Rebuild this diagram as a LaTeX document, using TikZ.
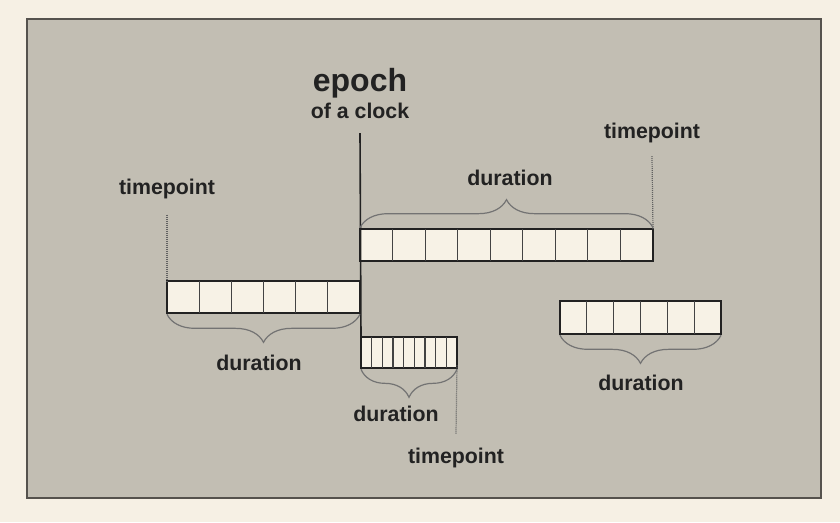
\documentclass[tikz,border=0pt]{standalone}
\usepackage{fontspec}
\setmainfont{Liberation Sans}
\usetikzlibrary{decorations.pathreplacing}
\definecolor{paper}{HTML}{F6F0E4}
\definecolor{panel}{HTML}{C2BEB3}
\definecolor{frame}{HTML}{55524D}
\definecolor{ink}{HTML}{222222}
\definecolor{cellfill}{HTML}{F7F2E6}
\begin{document}
\begin{tikzpicture}[x=0.75pt, y=-0.75pt,
          font=\bfseries\fontsize{16}{19}\selectfont, text=ink,
          lbl/.style={inner sep=0pt, anchor=base},
          barbox/.style={draw=ink, line width=1.2pt, fill=cellfill},
          divider/.style={draw=ink!85, line width=0.9pt},
          brc/.style={draw=black!55, line width=0.9pt, decorate,
                      decoration={brace, amplitude=21pt, raise=1pt}},
          tick/.style={draw=black!62, line width=0.9pt, dash pattern=on 0.8pt off 0.7pt}]
        \fill[paper] (0,0) rectangle (840,522);
        \draw[frame, line width=2pt, fill=panel] (27,19) rectangle (821,498);
        % labels
        \node[lbl, font=\bfseries\fontsize{24}{28}\selectfont] (epoch) at (360,91) {epoch};
        \node[lbl] (clock) at (360,118) {of a clock};
        \node[lbl] (tpRight) at (652,138) {timepoint};
        \node[lbl] (durTop) at (510,185) {duration};
        \node[lbl] (tpLeft) at (167,194) {timepoint};
        \node[lbl] (durLeft) at (259,370) {duration};
        \node[lbl] (durLow) at (396,421) {duration};
        \node[lbl] (tpLow) at (456,463) {timepoint};
        \node[lbl] (durRight) at (641,390) {duration};
        % bar corners
        \coordinate (topNW) at (360,229); \coordinate (topSE) at (653,261);
        \coordinate (leftNW) at (167,281); \coordinate (leftSE) at (360,313);
        \coordinate (lowNW) at (361,337); \coordinate (lowSE) at (457,368);
        \coordinate (rightNW) at (560,301); \coordinate (rightSE) at (721,334);
        % bars and cells
        \draw[barbox] (topNW) rectangle (topSE);
        \foreach \i in {1,...,8} \draw[divider] ({360+\i*293/9},229) -- ++(0,32);
        \draw[barbox] (leftNW) rectangle (leftSE);
        \foreach \i in {1,...,5} \draw[divider] ({167+\i*193/6},281) -- ++(0,32);
        \draw[barbox] (lowNW) rectangle (lowSE);
        \foreach \i in {1,...,8} \draw[divider] ({361+\i*96/9},337) -- ++(0,31);
        \draw[barbox] (rightNW) rectangle (rightSE);
        \foreach \i in {1,...,5} \draw[divider] ({560+\i*161/6},301) -- ++(0,33);
        % epoch line and timepoint marks
        \draw[ink, line width=1.2pt] ([yshift=-11pt]clock.south) -- (lowNW);
        \draw[tick] ([yshift=-10pt]tpRight.south) -- (topSE |- topNW);
        \draw[tick] ([yshift=-12pt]tpLeft.south) -- (leftNW);
        \draw[tick] ([yshift=2pt]lowSE) -- ([yshift=10pt]tpLow.north);
        % braces
        \draw[brc] (topNW) -- (topSE |- topNW);
        \draw[brc] (leftSE) -- (leftNW |- leftSE);
        \draw[brc] (lowSE) -- (lowNW |- lowSE);
        \draw[brc] (rightSE) -- (rightNW |- rightSE);
      \end{tikzpicture}
\end{document}
